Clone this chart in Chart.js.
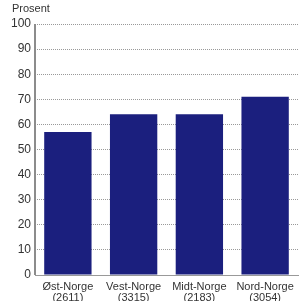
<!DOCTYPE html>
<html>
<head>
<meta charset="utf-8">
<script src="https://cdn.jsdelivr.net/npm/chart.js@4"></script>
<style>
html,body{margin:0;padding:0;background:#fff;}
#wrap{width:307px;height:301px;position:relative;}
</style>
</head>
<body>
<div id="wrap"><canvas id="c" width="307" height="301"></canvas></div>
<script>
const regions = ['Øst-Norge', 'Vest-Norge', 'Midt-Norge', 'Nord-Norge'];
const counts = ['(2611)', '(3315)', '(2183)', '(3054)'];
const values = [57, 64, 64, 71];
const yTicks = [0, 10, 20, 30, 40, 50, 60, 70, 80, 90, 100];
const yLabel = 'Prosent';

const labels = regions.map((r, i) => [r, counts[i]]);
const FONT = "'Liberation Sans', Arial, sans-serif";

const decor = {
  id: 'decor',
  afterDraw(chart) {
    const ctx = chart.ctx;
    const ys = chart.scales.y;
    ctx.save();
    ctx.font = '11px ' + FONT;
    ctx.fillStyle = '#333';
    ctx.textBaseline = 'middle';
    ctx.textAlign = 'left';
    ctx.fillText(yLabel, 12, 9);
    // solid vertical axis line
    ctx.strokeStyle = '#8c8c8c';
    ctx.lineWidth = 2;
    ctx.setLineDash([]);
    ctx.beginPath();
    ctx.moveTo(ys.right, ys.getPixelForValue(ys.max));
    ctx.lineTo(ys.right, ys.getPixelForValue(ys.min));
    ctx.stroke();
    ctx.restore();
  }
};

new Chart(document.getElementById('c'), {
  type: 'bar',
  data: {
    labels: labels,
    datasets: [{
      data: values,
      backgroundColor: '#1b1f7e',
      borderWidth: 0,
      barPercentage: 0.72,
      categoryPercentage: 1.0
    }]
  },
  options: {
    responsive: false,
    animation: false,
    devicePixelRatio: 1,
    layout: { padding: { left: 0, right: 9, top: 24, bottom: 0 } },
    plugins: {
      legend: { display: false },
      tooltip: { enabled: false },
      title: { display: false }
    },
    scales: {
      x: {
        afterFit: (s) => { s.height = 26; },
        grid: { display: false, drawTicks: false },
        border: { display: true, color: '#999', width: 1 },
        ticks: {
          color: '#333',
          font: { family: FONT, size: 11, lineHeight: 1.0 },
          padding: 6,
          maxRotation: 0,
          autoSkip: false
        }
      },
      y: {
        min: 0,
        max: 100,
        afterBuildTicks: (s) => { s.ticks = yTicks.map(v => ({ value: v })); },
        afterFit: (s) => { s.width = 35; },
        grid: {
          color: '#999',
          lineWidth: 1,
          drawTicks: false
        },
        border: { display: false, dash: [1, 1] },
        ticks: {
          color: '#333',
          font: { family: FONT, size: 12 },
          padding: 4
        }
      }
    }
  },
  plugins: [decor]
});
</script>
</body>
</html>
